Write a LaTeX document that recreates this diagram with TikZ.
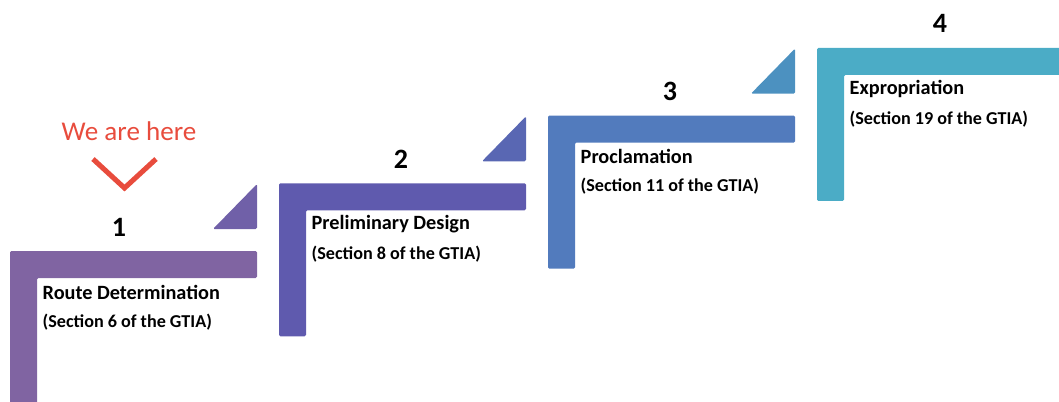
\documentclass[tikz,border=0pt]{standalone}
\usepackage{fontspec}
\setmainfont{Carlito}
\usetikzlibrary{positioning}
\definecolor{stairA}{HTML}{8064A2}
\definecolor{stairB}{HTML}{5F5AAE}
\definecolor{stairC}{HTML}{527BBD}
\definecolor{stairD}{HTML}{4BACC6}
\definecolor{wedgeA}{HTML}{7060A8}
\definecolor{wedgeB}{HTML}{5967B3}
\definecolor{wedgeC}{HTML}{4C91C0}
\definecolor{hereRed}{HTML}{E84C3D}
\begin{document}
\begin{tikzpicture}[x=0.75pt,y=-0.75pt,
    stepnum/.style={font=\bfseries\fontsize{21}{24}\selectfont},
    steptitle/.style={anchor=west,font=\bfseries\fontsize{15.2}{17}\selectfont},
    stepnote/.style={anchor=west,font=\bfseries\fontsize{13.6}{15}\selectfont}]
    \useasboundingbox (0,0) rectangle (1059,401);
    % the four stairs
    \foreach \n/\stair/\wedge/\numx/\title/\sec in {
        1/stairA/wedgeA/109/Route Determination/6,
        2/stairB/wedgeB/122/Preliminary Design/8,
        3/stairC/wedgeC/122/Proclamation/11,
        4/stairD/stairD/123/Expropriation/19}{
        \begin{scope}[shift={({10+269*(\n-1)},{251-67.7*(\n-1)})}]
            \fill[\stair,rounded corners=1pt] (0,0) -- (247,0) -- (247,27)
                -- (27,27) -- (27,153) -- (0,153) -- cycle;
            \ifnum\n<4
                \fill[\wedge,rounded corners=1pt] (203,-22) -- (247,-67)
                    -- (247,-22) -- cycle;
            \fi
            \node[stepnum] (num\n) at (\numx,-24) {\n};
            \node[steptitle] (title\n) at (28,41) {\title};
            \node[stepnote] (sec\n) at (28,71) {(Section \sec\ of the GTIA)};
        \end{scope}
    }
    % marker
    \node[text=hereRed,font=\fontsize{20.3}{23}\selectfont] (here) at (129,131) {We are here};
    \draw[hereRed,line width=3.8pt] (93,159) -- (124.5,188) -- (156,159);
\end{tikzpicture}
\end{document}
